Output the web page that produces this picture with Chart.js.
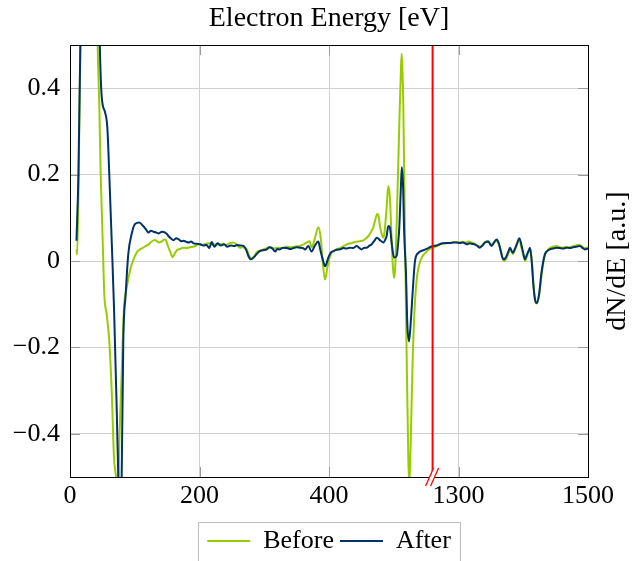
<!DOCTYPE html>
<html>
<head>
<meta charset="utf-8">
<script src="https://cdn.jsdelivr.net/npm/chart.js@4.4.1/dist/chart.umd.min.js"></script>
<style>
    html, body { margin: 0; padding: 0; background: #fff; }
</style>
</head>
<body>
<canvas id="aes-chart" width="637" height="561"></canvas>
<script>
// Auger spectrum, derivative mode, before / after treatment
let beforeEnergy = [10, 11, 13, 16, 20, 28, 38, 42.7, 45.3, 47.4, 50.5, 53, 56.7, 60.7, 64.4, 68, 71, 73, 75, 76.2, 79.8, 83.4, 87.5, 93.7,
    100.4, 104, 108, 113, 117.4, 121, 124, 128, 131, 134, 138, 142, 146, 148.3, 151, 154.4, 158.6, 162, 165, 170, 175, 180, 185, 190, 195,
    200, 205, 210, 216, 221, 226, 231, 236, 241, 246, 252, 257, 262.5, 267, 272.9, 276, 280, 284, 288, 293, 298.6,
    304, 309, 314, 319, 324, 329, 335, 342, 348, 355, 360, 365.5, 369.6, 373.3, 378.4, 383.5, 387.2, 390.2, 393.8, 397.4,
    401, 404, 410, 417, 423, 429.8, 436, 442.8, 448, 453, 457, 460.7, 464, 468.4, 471, 474.6, 476.5, 479, 481, 484, 486, 489, 491.6, 494, 496.8, 498.5,
    500.4, 502, 504.5, 508.6, 511, 512.2, 513.5, 514.8, 517.4, 520, 522.5, 524, 526.2, 529.3, 532.8, 536.4, 540, 543.2, 547, 550.9, 554, 558.6,
    1263, 1268, 1274, 1280, 1286, 1291, 1296, 1301, 1306, 1311, 1316, 1320, 1325, 1329, 1333, 1337, 1341, 1346, 1350, 1354, 1358, 1362, 1365, 1368,
    1370, 1373, 1375, 1378, 1380, 1384, 1387, 1390, 1394, 1397, 1400, 1403, 1405, 1408, 1411, 1413.5, 1416, 1418.5, 1421, 1424.5, 1428.5,
    1433, 1437, 1441, 1446, 1451, 1456, 1461, 1466, 1471, 1476, 1481, 1486, 1491, 1496, 1500];
let beforeSignal = [0.027, 0.015, 0.15, 0.5, 1.2, 1.6, 1.0, 0.5, 0.357, 0.2, 0.047, -0.078, -0.124, -0.186, -0.30, -0.457, -0.5, -0.55, -0.5, -0.419, -0.263, -0.109, -0.062, -0.016,
    0.012, 0.022, 0.027, 0.031, 0.035, 0.038, 0.043, 0.047, 0.049, 0.046, 0.043, 0.046, 0.05, 0.048, 0.036, 0.023, 0.009, 0.018, 0.025, 0.028, 0.031, 0.03, 0.032, 0.033, 0.036,
    0.039, 0.038, 0.04, 0.041, 0.037, 0.039, 0.038, 0.04, 0.037, 0.041, 0.043, 0.039, 0.031, 0.032, 0.027, 0.015, 0.006, 0.01, 0.02, 0.024, 0.027,
    0.03, 0.032, 0.029, 0.031, 0.03, 0.03, 0.033, 0.032, 0.034, 0.035, 0.038, 0.043, 0.046, 0.032, 0.054, 0.078, 0.054, 0.0, -0.043, -0.016,
    0.008, 0.019, 0.026, 0.03, 0.035, 0.04, 0.042, 0.045, 0.046, 0.048, 0.052, 0.058, 0.065, 0.078, 0.093, 0.109, 0.105, 0.078, 0.065, 0.054, 0.07, 0.124, 0.174, 0.147, 0.047, -0.01,
    -0.039, -0.02, 0.085, 0.318, 0.44, 0.48, 0.44, 0.357, 0.047, -0.225, -0.457, -0.52, -0.419, -0.225, -0.093, -0.031, -0.005, 0.008, 0.016, 0.022, 0.026, 0.031,
    0.032, 0.036, 0.04, 0.041, 0.042, 0.043, 0.044, 0.043, 0.044, 0.043, 0.045, 0.043, 0.04, 0.036, 0.033, 0.037, 0.044, 0.046, 0.037, 0.042, 0.047, 0.04, 0.027, 0.008,
    0.0, 0.003, 0.01, 0.022, 0.028, 0.016, 0.026, 0.036, 0.05, 0.032, 0.014, 0.0, 0.008, 0.02, 0.028, -0.003, -0.06, -0.093, -0.098, -0.08, -0.03,
    0.012, 0.024, 0.03, 0.033, 0.035, 0.032, 0.031, 0.033, 0.032, 0.034, 0.036, 0.038, 0.033, 0.03, 0.032];

let afterEnergy = [10, 13, 16, 20, 28, 40, 46, 49, 54, 57.6, 60.7, 64.4, 68, 72.1, 74.6, 77, 79.8, 82.3, 86, 90, 95.3,
    100.4, 107, 113, 117, 121, 125, 129, 133, 137, 142, 147, 150, 152, 156, 160, 164, 168, 172, 175, 179, 183, 187, 191, 196,
    201, 206, 211, 215, 219, 223, 228, 233, 238, 243, 248, 254, 258, 263, 268, 272, 276, 279, 282, 286, 290, 293, 298,
    304, 308, 312, 317, 320, 324, 329, 335, 340, 345, 350, 355, 360, 363, 368, 373, 378, 383.5, 387, 391, 394, 399,
    403, 407, 412, 417, 422, 427, 432, 437, 443, 447, 450, 455, 458, 462, 466, 470, 474, 479, 484, 487, 489, 491.6, 494, 497,
    500.4, 504.5, 507, 508.6, 511, 512.5, 514.5, 516, 518.9, 521, 523.6, 526, 529.3, 532.8, 538, 545.6, 553.4, 560,
    1266, 1271, 1276, 1282, 1287, 1292, 1297, 1302, 1307, 1313, 1317, 1320, 1326, 1330, 1333, 1337, 1341, 1346, 1351, 1355, 1359, 1362, 1364, 1367,
    1369, 1372, 1374.4, 1377, 1379.5, 1383.7, 1387, 1390, 1394, 1397.6, 1400, 1402.7, 1405, 1408, 1410.4, 1413, 1415.6, 1418.2, 1420.8, 1424.3, 1428.5,
    1433.5, 1437, 1441, 1446, 1451.6, 1456, 1462, 1467, 1472, 1477, 1482, 1487.6, 1492, 1495, 1500];
let afterSignal = [0.047, 0.2, 0.5, 1.2, 1.6, 1.0, 0.5, 0.38, 0.345, 0.31, 0.20, 0.047, -0.109, -0.34, -0.50, -0.6, -0.5, -0.186, -0.077, 0.016, 0.063,
    0.086, 0.089, 0.081, 0.074, 0.066, 0.07, 0.068, 0.066, 0.064, 0.068, 0.066, 0.062, 0.058, 0.052, 0.048, 0.053, 0.05, 0.046, 0.047, 0.045, 0.043, 0.045, 0.041, 0.04,
    0.039, 0.036, 0.037, 0.03, 0.044, 0.033, 0.041, 0.036, 0.039, 0.033, 0.036, 0.035, 0.037, 0.036, 0.035, 0.026, 0.01, 0.004, 0.006, 0.012, 0.019, 0.023, 0.025,
    0.027, 0.032, 0.03, 0.022, 0.028, 0.027, 0.031, 0.03, 0.028, 0.03, 0.032, 0.031, 0.03, 0.027, 0.035, 0.022, 0.035, 0.045, 0.023, 0.0, -0.012, 0.008,
    0.02, 0.023, 0.026, 0.027, 0.03, 0.029, 0.031, 0.03, 0.035, 0.03, 0.027, 0.031, 0.031, 0.035, 0.039, 0.047, 0.054, 0.048, 0.043, 0.05, 0.058, 0.081, 0.078, 0.039,
    0.008, 0.012, 0.045, 0.078, 0.17, 0.217, 0.17, 0.07, -0.03, -0.147, -0.186, -0.147, -0.07, 0.0, 0.019, 0.025, 0.03, 0.035,
    0.036, 0.039, 0.041, 0.042, 0.042, 0.043, 0.043, 0.042, 0.043, 0.039, 0.041, 0.04, 0.038, 0.034, 0.031, 0.036, 0.043, 0.045, 0.035, 0.043, 0.05, 0.042, 0.031, 0.012,
    0.004, 0.006, 0.012, 0.022, 0.031, 0.019, 0.028, 0.039, 0.053, 0.035, 0.018, 0.004, 0.012, 0.023, 0.031, 0.0, -0.054, -0.089, -0.097, -0.078, -0.023,
    0.016, 0.023, 0.027, 0.029, 0.031, 0.03, 0.029, 0.031, 0.03, 0.032, 0.033, 0.035, 0.03, 0.027, 0.029];

let xTickValues = [0, 200, 400, 1300, 1500];
let yTickValues = [-0.4, -0.2, 0, 0.2, 0.4];

// the energy axis is cut between these two values
let cutFrom = 560;
let cutTo = 1260;

let serif = "'Liberation Serif', 'DejaVu Serif', serif";

function toAxis(e) {
    return e <= cutFrom ? e : e - (cutTo - cutFrom);
}

function toPoints(energy, signal) {
    return energy.map((e, i) => ({ x: toAxis(e), y: signal[i] }));
}

let framePlugin = {
    id: 'frame',
    beforeDatasetsDraw(chart) {
        let ctx = chart.ctx;
        let a = chart.chartArea;
        let xs = chart.scales.x;
        let ys = chart.scales.y;
        ctx.save();
        ctx.strokeStyle = '#9a9a9a';
        ctx.lineWidth = 1;
        ctx.beginPath();
        xTickValues.forEach(v => {
            let px = Math.round(xs.getPixelForValue(toAxis(v))) + 0.5;
            ctx.moveTo(px, a.bottom); ctx.lineTo(px, a.bottom - 10);
            ctx.moveTo(px, a.top); ctx.lineTo(px, a.top + 10);
        });
        yTickValues.forEach(v => {
            let py = Math.round(ys.getPixelForValue(v)) + 0.5;
            ctx.moveTo(a.left, py); ctx.lineTo(a.left + 10, py);
            ctx.moveTo(a.right, py); ctx.lineTo(a.right - 10, py);
        });
        ctx.stroke();
        ctx.restore();
    },
    afterDraw(chart) {
        let ctx = chart.ctx;
        let a = chart.chartArea;
        let xs = chart.scales.x;
        ctx.save();

        // plot frame
        ctx.strokeStyle = '#000';
        ctx.lineWidth = 1;
        ctx.strokeRect(Math.round(a.left) + 0.5, Math.round(a.top) + 0.5,
            Math.round(a.right - a.left), Math.round(a.bottom - a.top));

        // axis break marks
        let bx = xs.getPixelForValue(cutFrom);
        ctx.fillStyle = '#fff';
        ctx.beginPath();
        ctx.moveTo(bx - 7, a.bottom + 9); ctx.lineTo(bx + 1, a.bottom - 9);
        ctx.lineTo(bx + 6, a.bottom - 9); ctx.lineTo(bx - 2, a.bottom + 9);
        ctx.closePath();
        ctx.fill();
        ctx.strokeStyle = '#ff0000';
        ctx.lineWidth = 1.3;
        ctx.beginPath();
        ctx.moveTo(bx - 7, a.bottom + 9); ctx.lineTo(bx + 1, a.bottom - 9);
        ctx.moveTo(bx - 2, a.bottom + 9); ctx.lineTo(bx + 6, a.bottom - 9);
        ctx.stroke();

        // right hand axis label
        ctx.fillStyle = '#000';
        ctx.font = '28px ' + serif;
        ctx.textAlign = 'center';
        ctx.textBaseline = 'middle';
        ctx.translate(618, (a.top + a.bottom) / 2);
        ctx.rotate(-Math.PI / 2);
        ctx.fillText('dN/dE [a.u.]', 0, 0);
        ctx.restore();

        // legend box
        let boxes = chart.legend.legendHitBoxes;
        if (boxes && boxes.length) {
            let l = Math.min(...boxes.map(b => b.left)) - 9;
            let r = Math.max(...boxes.map(b => b.left + b.width)) + 9;
            let t = chart.legend.top;
            ctx.save();
            ctx.strokeStyle = '#bdbdbd';
            ctx.lineWidth = 1;
            ctx.strokeRect(Math.round(l) + 0.5, Math.round(t) + 0.5, Math.round(r - l), 60);
            ctx.restore();
        }
    }
};

let chartEl = document.getElementById('aes-chart');

let config = {
    type: 'line',
    data: {
        datasets: [
            {
                label: 'Before',
                data: toPoints(beforeEnergy, beforeSignal),
                borderColor: '#99cc00',
                backgroundColor: '#99cc00',
                borderWidth: 2,
                pointRadius: 0,
                cubicInterpolationMode: 'monotone',
                clip: 0,
                order: 3
            },
            {
                label: 'After',
                data: toPoints(afterEnergy, afterSignal),
                borderColor: '#003366',
                backgroundColor: '#003366',
                borderWidth: 2,
                pointRadius: 0,
                cubicInterpolationMode: 'monotone',
                clip: 0,
                order: 2
            },
            {
                label: 'cut',
                data: [{ x: cutFrom, y: -0.5 }, { x: cutFrom, y: 0.5 }],
                borderColor: '#ff0000',
                borderWidth: 2,
                pointRadius: 0,
                tension: 0,
                cubicInterpolationMode: 'default',
                order: 1
            }
        ]
    },
    options: {
        responsive: false,
        animation: false,
        layout: {
            padding: { left: 0, right: 49, top: 0, bottom: -3 }
        },
        plugins: {
            tooltip: { enabled: false },
            title: {
                display: true,
                text: 'Electron Energy [eV]',
                fullSize: false,
                color: '#000',
                font: { family: serif, size: 28, weight: 'normal' },
                padding: { top: 2, bottom: 9.5 }
            },
            legend: {
                position: 'bottom',
                fullSize: false,
                labels: {
                    color: '#000',
                    font: { family: serif, size: 26 },
                    usePointStyle: true,
                    pointStyle: 'line',
                    pointStyleWidth: 43,
                    padding: 6,
                    filter: item => item.datasetIndex < 2,
                    sort: (a, b) => a.datasetIndex - b.datasetIndex
                }
            }
        },
        scales: {
            x: {
                type: 'linear',
                min: 0,
                max: toAxis(1500),
                afterBuildTicks: scale => {
                    scale.ticks = xTickValues.map(v => ({ value: toAxis(v) }));
                },
                afterFit: scale => { scale.height = 45; },
                ticks: {
                    color: '#000',
                    font: { family: serif, size: 26 },
                    padding: 4,
                    maxRotation: 0,
                    callback: (value, index) => String(xTickValues[index])
                },
                grid: { color: '#d0d0d0', drawTicks: false },
                border: { display: false }
            },
            y: {
                min: -0.5,
                max: 0.5,
                afterBuildTicks: scale => {
                    scale.ticks = yTickValues.map(v => ({ value: v }));
                },
                afterFit: scale => { scale.width = 70; },
                ticks: {
                    color: '#000',
                    font: { family: serif, size: 26 },
                    padding: 10,
                    callback: value => value < 0 ? '\u2212' + Math.abs(value) : String(value)
                },
                grid: { color: '#d0d0d0', drawTicks: false },
                border: { display: false }
            }
        }
    },
    plugins: [framePlugin]
};

let aesChart = new Chart(chartEl, config);
</script>
</body>
</html>
